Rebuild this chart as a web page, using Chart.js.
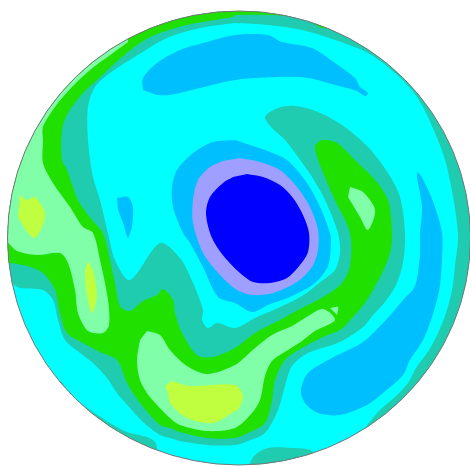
<!DOCTYPE html>
<html><head><meta charset="utf-8">
<style>html,body{margin:0;padding:0;background:#fff}#w{width:470px;height:466px;position:relative}</style>
<script src="https://cdn.jsdelivr.net/npm/chart.js@4/dist/chart.umd.min.js"></script>
</head><body><div id="w"><canvas id="c" width="470" height="466"></canvas></div>
<script>
const discCenter=[239,238], discRadius=[231.5,227];
const cyanDisc=[[0,0],[470,0],[470,466],[0,466]];
const tealMain=[[235,23],[200,28],[167,38],[133,58],[110,73],[95,87],[88,107],[88,140],[93,177],[100,200],[108,233],[115,260],[130,280],[160,243],[180,258],[193,283],[203,310],[202,320],[208,328],[217,323],[235,328],[255,318],[278,308],[302,296],[323,280],[335,270],[340,253],[338,233],[325,200],[312,177],[298,157],[285,140],[272,128],[265,117],[278,108],[295,106],[318,112],[342,125],[368,147],[388,173],[400,197],[405,233],[403,263],[396,285],[385,302],[373,315],[363,327],[340,342],[308,353],[292,366],[285,386],[278,410],[265,433],[248,441],[235,445],[207,445],[180,441],[170,438],[160,435],[143,422],[130,408],[117,393],[107,378],[93,363],[80,353],[65,340],[58,320],[53,300],[43,290],[20,288],[10,283],[0,283],[0,0],[235,0]];
const tealRimEast=[[235,23],[268,25],[302,30],[335,40],[368,53],[395,73],[417,97],[435,133],[447,167],[458,233],[455,266],[452,290],[446,313],[438,333],[429,350],[416,368],[408,383],[395,397],[382,408],[373,418],[367,428],[470,440],[470,0],[235,0]];
const tealRimSouth=[[248,466],[255,455],[268,448],[292,448],[312,451],[318,466]];
const tealRimSouthWest=[[62,382],[72,397],[83,405],[93,412],[110,423],[127,432],[147,437],[155,442],[157,448],[157,466],[0,466],[0,360]];
const greenMain=[[233,17],[187,25],[150,37],[128,52],[113,65],[97,80],[83,93],[68,113],[62,130],[62,160],[67,170],[78,200],[92,220],[103,233],[110,260],[115,283],[120,306],[130,311],[143,301],[157,295],[163,289],[173,300],[175,313],[182,333],[197,355],[213,357],[235,348],[255,333],[278,321],[302,308],[325,296],[342,283],[350,266],[350,233],[335,200],[322,170],[315,147],[322,140],[337,143],[355,160],[375,180],[388,200],[392,233],[390,253],[382,273],[367,300],[353,317],[340,330],[325,336],[302,348],[285,360],[275,380],[272,400],[265,423],[248,433],[235,438],[207,438],[180,432],[170,428],[160,425],[140,403],[127,383],[117,360],[100,352],[83,343],[67,333],[60,313],[55,290],[43,273],[27,266],[10,263],[0,263],[0,0],[325,0],[325,28],[302,18],[268,15],[235,15]];
const mintWest=[[128,42],[113,53],[90,70],[72,87],[55,107],[43,127],[43,140],[43,163],[53,183],[70,207],[83,227],[93,233],[100,260],[108,300],[109,325],[103,333],[88,331],[78,313],[75,290],[68,263],[60,253],[37,255],[17,251],[8,243],[0,240],[0,0],[128,0]];
const mintSouth=[[147,331],[160,335],[170,350],[187,366],[207,374],[235,365],[255,348],[272,335],[292,326],[305,318],[323,309],[335,320],[315,331],[302,341],[288,350],[272,361],[265,376],[260,400],[252,413],[235,428],[207,431],[180,425],[170,418],[150,397],[140,380],[137,360],[140,340]];
const mintEast=[[350,187],[363,192],[375,210],[368,230],[360,217],[348,197]];
const mintSpeck=[[330,308],[338,307],[337,315]];
const yellowWest=[[20,195],[27,200],[35,197],[45,213],[42,227],[35,238],[28,233],[18,217]];
const yellowMid=[[88,261],[93,270],[97,296],[92,313],[86,290],[85,271]];
const yellowSouth=[[172,381],[190,386],[235,385],[243,396],[238,410],[235,411],[213,423],[187,418],[170,403],[168,393],[165,386]];
const skyNorth=[[143,90],[143,78],[157,63],[180,50],[207,42],[235,35],[268,35],[282,42],[312,48],[335,63],[355,78],[360,87],[368,93],[365,96],[357,91],[335,85],[308,78],[278,77],[235,80],[200,88],[170,95],[157,95]];
const skySmall=[[117,198],[128,197],[133,207],[132,227],[130,233],[128,238],[123,223],[118,210]];
const skyRing=[[235,140],[213,142],[193,153],[177,170],[172,187],[173,207],[183,233],[190,243],[203,267],[218,297],[235,303],[252,312],[268,305],[292,296],[315,283],[328,266],[331,243],[330,233],[320,207],[307,183],[287,160],[265,150]];
const skySouthEast=[[420,233],[422,207],[417,177],[418,172],[425,183],[435,207],[442,233],[442,260],[440,285],[437,300],[430,323],[422,342],[410,360],[403,375],[383,393],[367,405],[340,415],[318,413],[305,403],[301,390],[308,373],[332,358],[363,342],[383,323],[393,312],[403,300],[415,286],[420,256]];
const periRing=[[240,158],[260,162],[280,170],[297,187],[310,207],[318,230],[318,250],[312,267],[297,282],[273,293],[253,295],[237,290],[220,275],[203,253],[193,223],[193,200],[198,180],[210,167],[223,161]];
const blueCore=[[247,174],[263,177],[280,185],[293,198],[303,215],[309,233],[308,252],[300,265],[287,278],[270,283],[253,282],[240,273],[227,260],[217,247],[210,233],[206,213],[210,197],[223,183],[233,177]];

const CYAN='#00ffff',TEAL='#20ccb0',GREEN='#20e000',MINT='#80ffa8',YELLOW='#bfff40',SKY='#00bfff',PERI='#9f9fff',BLUE='#0000ff';
const layers=[[cyanDisc,CYAN],[tealMain,TEAL],[tealRimEast,TEAL],[tealRimSouth,TEAL],[tealRimSouthWest,TEAL],[greenMain,GREEN],[mintWest,MINT],[mintSouth,MINT],[mintEast,MINT],[mintSpeck,MINT],[yellowWest,YELLOW],[yellowMid,YELLOW],[yellowSouth,YELLOW],[skyNorth,SKY],[skySmall,SKY],[skySouthEast,SKY],[skyRing,SKY],[periRing,PERI],[blueCore,BLUE]];

function discPath(chart){
  const {x,y}=chart.scales, c=chart.ctx;
  const cx=x.getPixelForValue(discCenter[0]), cy=y.getPixelForValue(discCenter[1]);
  const rx=Math.abs(x.getPixelForValue(discCenter[0]+discRadius[0])-cx), ry=Math.abs(y.getPixelForValue(discCenter[1]+discRadius[1])-cy);
  c.beginPath(); c.ellipse(cx,cy,rx,ry,0,0,Math.PI*2);
}
const discPlugin={id:'disc',
  beforeDatasetsDraw(chart){chart.ctx.save();discPath(chart);chart.ctx.clip();},
  afterDatasetsDraw(chart){chart.ctx.restore();chart.ctx.save();discPath(chart);chart.ctx.strokeStyle='#777';chart.ctx.lineWidth=1;chart.ctx.stroke();chart.ctx.restore();}
};
new Chart(document.getElementById('c'),{
  type:'scatter',
  data:{datasets:layers.map(([pts,col])=>({data:pts.map(([x,y])=>({x,y})),showLine:true,fill:'shape',backgroundColor:col,borderColor:col,borderWidth:0,pointRadius:0,tension:0.3})).reverse()},
  options:{responsive:false,animation:false,events:[],layout:{padding:0},
    plugins:{legend:{display:false},tooltip:{enabled:false},title:{display:false}},
    scales:{x:{type:'linear',min:0,max:470,display:false},y:{type:'linear',min:0,max:466,reverse:true,display:false}}},
  plugins:[discPlugin]
});
</script></body></html>
